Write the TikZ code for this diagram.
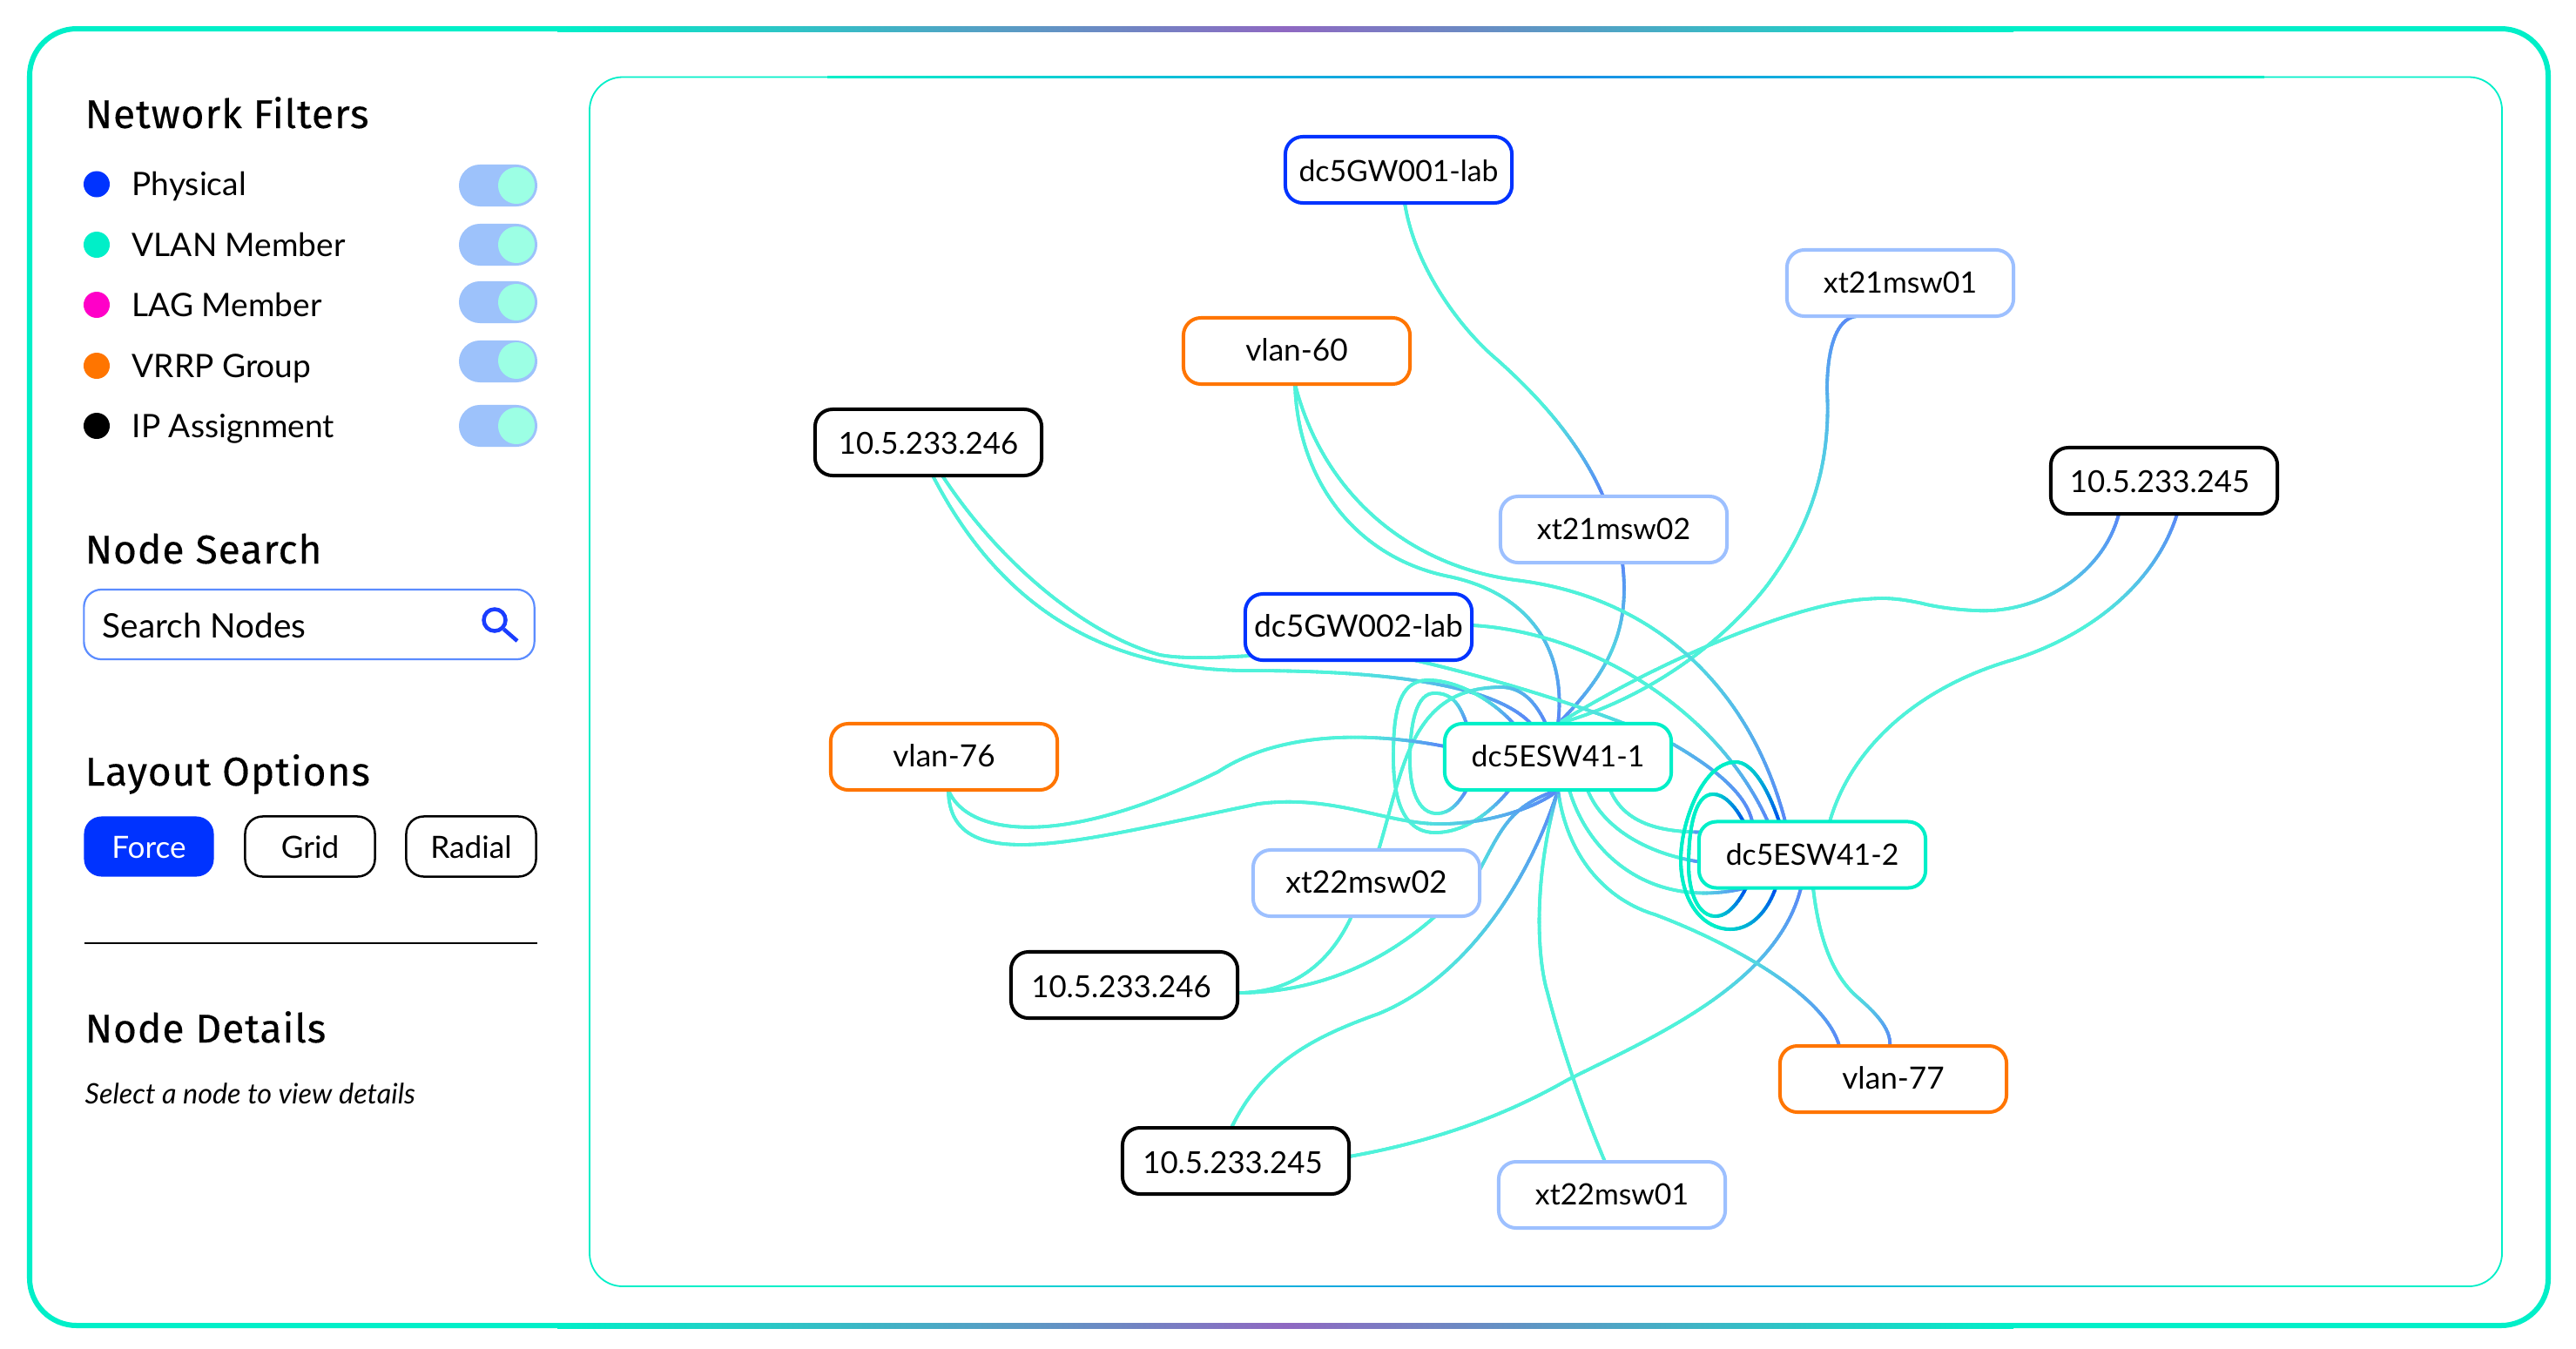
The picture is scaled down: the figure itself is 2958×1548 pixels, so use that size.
\documentclass[tikz,border=0pt]{standalone}
\usepackage{fontspec}
\setmainfont{Lato}
\newfontfamily\headfont[FakeBold=0.25,LetterSpace=2]{Fira Sans}
\usetikzlibrary{calc,decorations.markings,shapes.misc}
\pgfdeclarelayer{paper}
\pgfdeclarelayer{edges}
\pgfsetlayers{paper,edges,main}
\definecolor{tealw}{HTML}{4FF2DA}
\definecolor{bluew}{HTML}{5B85F8}
\definecolor{tealL}{HTML}{00EFC8}
\definecolor{blueL}{HTML}{0048F0}
\definecolor{framepurple}{HTML}{8F68C2}
\definecolor{panelblue}{HTML}{1A8CE8}
\definecolor{cPhys}{HTML}{0033FF}
\definecolor{cXt}{HTML}{9DC0FF}
\definecolor{cVlan}{HTML}{FF7500}
\definecolor{cLag}{HTML}{FF00C8}
\definecolor{cTog}{HTML}{9DC2FB}
\definecolor{cKnob}{HTML}{9CFFE4}
\definecolor{cSearch}{HTML}{5B8CFF}
\definecolor{cIcon}{HTML}{1A3DFF}
\newcommand\wiretick[4]{%
  \pgfmathsetmacro\wirepct{100*max(0,max(1-(\pgfkeysvalueof{/pgf/decoration/mark info/distance from start})/((#1+0.001)*\pgfdecoratedpathlength),1-(\pgfdecoratedpathlength-\pgfkeysvalueof{/pgf/decoration/mark info/distance from start})/((#2+0.001)*\pgfdecoratedpathlength)))}%
  \colorlet{wiremix}{#3!\wirepct!#4}%
  \draw[wiremix,line width=0.036cm,line cap=butt] (-1pt,0pt) -- (1pt,0pt);%
}
\tikzset{
  x=0.01cm,y=-0.01cm,
  wire/.style 2 args={draw=tealw,line width=0.036cm,postaction={decorate,decoration={markings,
      mark=between positions 0 and 1 step 1.2pt with {\wiretick{#1}{#2}{bluew}{tealw}}}}},
  loopwire/.style 2 args={draw=tealL,line width=0.04cm,postaction={decorate,decoration={markings,
      mark=between positions 0 and 1 step 1.2pt with {\wiretick{#1}{#2}{blueL}{tealL}}}}},
  netnode/.style={rectangle,rounded corners=0.2cm,fill=white,line width=0.04cm,minimum width=2.6cm,minimum height=0.76cm,
      inner sep=0pt,outer sep=0pt,text height=6.8pt,text depth=0pt,font=\fontsize{9.6}{11}\selectfont},
  physn/.style={netnode,draw=cPhys},
  xtn/.style={netnode,draw=cXt},
  vlann/.style={netnode,draw=cVlan,font=\fontsize{10}{11}\selectfont},
  ipn/.style={netnode,draw=black,text height=7.6pt,font=\fontsize{9.9}{11}\selectfont},
  eswn/.style={netnode,draw=tealL},
  heading/.style={anchor=base west,inner sep=0pt,font=\headfont\fontsize{13.1}{15}\selectfont},
  label/.style={anchor=base west,inner sep=0pt,font=\fontsize{10.55}{12}\selectfont},
  legdot/.style={circle,inner sep=0pt,minimum size=0.3cm},
  togglebg/.style={rectangle,rounded corners=0.24cm,fill=cTog,minimum width=0.9cm,minimum height=0.48cm,inner sep=0pt},
  knob/.style={circle,fill=cKnob,inner sep=0pt,minimum size=0.42cm},
  btn/.style={rectangle,rounded corners=0.2cm,minimum width=1.49cm,minimum height=0.69cm,inner sep=0pt,text height=7.8pt,text depth=0pt,font=\fontsize{10}{11}\selectfont},
}
\begin{document}
\begin{tikzpicture}
\useasboundingbox (0,0) rectangle (2958,1548);
\begin{pgfonlayer}{paper}
\fill[white] (0,0) rectangle (2958,1548);
% frames
\draw[tealL,line width=0.06cm,rounded corners=0.54cm] (34,33) rectangle (2926,1522);
\shade[left color=tealL,right color=tealL,middle color=framepurple] (640,30) rectangle (2312,36);
\shade[left color=tealL,right color=tealL,middle color=framepurple] (640,1519) rectangle (2312,1525);
\draw[tealL,line width=0.018cm,rounded corners=0.38cm] (677,88.5) rectangle (2873,1477);
\shade[left color=tealL,right color=tealL,middle color=panelblue] (950,87.6) rectangle (2600,89.4);
\shade[left color=tealL,right color=tealL,middle color=panelblue] (950,1476.1) rectangle (2600,1477.9);
\end{pgfonlayer}
% sidebar
\node[heading] (h1) at (97,147) {Network Filters};
\node[legdot,fill=cPhys] (d1) at (111,211.5) {};
\node[legdot,fill=tealL] (d2) at (111,281) {};
\node[legdot,fill=cLag] (d3) at (111,350) {};
\node[legdot,fill=cVlan] (d4) at (111,420) {};
\node[legdot,fill=black] (d5) at (111,489) {};
\node[label] (l1) at (151,224) {Physical};
\node[label] (l2) at (151,294) {VLAN Member};
\node[label] (l3) at (151,363) {LAG Member};
\node[label] (l4) at (151,433) {VRRP Group};
\node[label] (l5) at (151,502) {IP Assignment};
\node[togglebg] (t1) at (572,213) {}; \node[knob] (k1) at (593,213) {};
\node[togglebg] (t2) at (572,281) {}; \node[knob] (k2) at (593,281) {};
\node[togglebg] (t3) at (572,347) {}; \node[knob] (k3) at (593,347) {};
\node[togglebg] (t4) at (572,415) {}; \node[knob] (k4) at (593,414) {};
\node[togglebg] (t5) at (572,489) {}; \node[knob] (k5) at (593,489) {};
\node[heading] (h2) at (97,647) {Node Search};
\node[rectangle,draw=cSearch,line width=0.022cm,rounded corners=0.2cm,minimum width=5.17cm,minimum height=0.8cm,inner sep=0pt] (search) at (355,717) {};
\node[anchor=base west,inner sep=0pt,font=\fontsize{11}{13}\selectfont] (searchtxt) at (117,732) {Search Nodes};
\node[circle,draw=cIcon,line width=0.045cm,inner sep=0pt,minimum size=0.25cm] (icon) at (568,712) {};
\coordinate (iconend) at (594,736);
\draw[cIcon,line width=0.045cm] (icon.-45) -- (iconend);
\node[heading] (h3) at (97,902) {Layout Options};
\node[btn,fill=cPhys,text=white] (b1) at (171,972) {Force};
\node[btn,draw=black,line width=0.025cm] (b2) at (356,972) {Grid};
\node[btn,draw=black,line width=0.025cm] (b3) at (541,972) {Radial};
\coordinate (ruleL) at (96.5,1083);
\coordinate (ruleR) at (617,1083);
\draw[black,line width=0.02cm] (ruleL) -- (ruleR);
\node[heading] (h4) at (97,1197) {Node Details};
\node[anchor=base west,inner sep=0pt,font=\itshape\fontsize{9.2}{11}\selectfont] (sel) at (97,1267) {Select a node to view details};
% network nodes
\node[physn,text height=7.6pt] (gwa) at (1606,195) {dc5GW001-lab};
\node[xtn] (xta) at (2182,325) {xt21msw01};
\node[vlann] (vs) at (1489,403) {vlan-60};
\node[ipn] (ipa) at (1066,508) {10.5.233.246};
\node[xtn] (xtb) at (1853,608) {xt21msw02};
\node[ipn] (ipb) at (2485,552) {10.5.233.245\kern2.8pt};
\node[physn,font=\fontsize{10.05}{11}\selectfont] (gwb) at (1560,720) {dc5GW002-lab};
\node[vlann] (vm) at (1084,869) {vlan-76};
\node[eswn] (hub) at (1789,869) {dc5ESW41-1};
\node[eswn] (esw) at (2081,981.5) {dc5ESW41-2};
\node[xtn,font=\fontsize{10.1}{11}\selectfont] (xtc) at (1569,1014) {xt22msw02};
\node[ipn,text height=8.4pt] (ipc) at (1291,1131) {10.5.233.246\kern2pt};
\node[vlann] (vn) at (2174,1239) {vlan-77};
\node[ipn,text height=8.4pt] (ipd) at (1419,1333) {10.5.233.245\kern2pt};
\node[xtn] (xtd) at (1851,1372) {xt22msw01};
% connectors
\begin{pgfonlayer}{edges}
\draw[wire={0}{.3}] ($(gwa.south)+(7,0)$) .. controls (1625,310) and (1680,380) .. (1718,412) .. controls (1770,458) and (1815,510) .. ($(xtb.north)+(-12,0)$);
\draw[wire={.7}{.7}] ($(xtb.south)+(10,0)$) .. controls (1872,720) and (1850,770) .. (hub.north);
\draw[wire={.45}{0}] ($(xta.south)+(-49,0)$) .. controls (2105,365) and (2098,410) .. (2098,448) .. controls (2103,540) and (2075,610) .. (2030,671) .. controls (1985,730) and (1900,800) .. (hub.north);
\draw[wire={.25}{0}] ($(ipb.south)+(-52,0)$) .. controls (2415,660) and (2340,705) .. (2269,701) .. controls (2240,700) and (2215,695) .. (2208,693) .. controls (2180,687) and (2165,686) .. (2142,688) .. controls (2070,692) and (1920,750) .. (hub.north);
\draw[wire={.3}{0}] ($(ipb.south)+(15,0)$) .. controls (2475,670) and (2400,730) .. (2310,758) .. controls (2200,790) and (2125,860) .. ($(esw.north)+(20,0)$);
\draw[wire={0}{.35}] ($(vs.south)+(-2,0)$) .. controls (1520,570) and (1620,650) .. (1740,666) .. controls (1900,685) and (2010,790) .. ($(esw.north)+(-31,0)$);
\draw[wire={0}{.35}] ($(vs.south)+(-2,0)$) .. controls (1490,550) and (1555,640) .. (1664,662) .. controls (1750,680) and (1800,740) .. (hub.north);
\draw[wire={0}{.35}] ($(gwb.east)+(0,-2)$) .. controls (1820,725) and (1970,810) .. ($(esw.north)+(-51,0)$);
\draw[wire={0}{.6}] ($(gwb.south)+(64,0)$) .. controls (1720,780) and (1850,820) .. (1922,855) .. controls (1965,880) and (2005,910) .. ($(esw.north)+(-69,0)$);
\draw[wire={0}{0}] ($(ipa.south)+(16,0)$) .. controls (1150,650) and (1250,730) .. (1332,752) .. controls (1360,757) and (1400,755) .. ($(gwb.west)+(5,33)$);
\draw[wire={0}{.3}] ($(ipa.south)+(5,0)$) .. controls (1140,680) and (1250,770) .. (1434,770) .. controls (1560,770) and (1710,780) .. ($(hub.north)+(-31,0)$);
\draw[wire={.12}{.12}] ($(hub.north)+(-51,0)$) .. controls (1710,800) and (1670,781) .. (1640,781) .. controls (1605,781) and (1600,820) .. (1600,870) .. controls (1600,925) and (1615,956) .. (1648,956) .. controls (1680,956) and (1710,935) .. ($(hub.south)+(-56,0)$);
\draw[wire={.15}{.15}] ($(hub.north)+(-105,0)$) .. controls (1675,805) and (1665,796) .. (1647,796) .. controls (1625,796) and (1619,835) .. (1619,873) .. controls (1619,910) and (1630,934) .. (1650,934) .. controls (1665,934) and (1675,922) .. ($(hub.south)+(-105,0)$);
\draw[wire={0}{.35}] ($(xtc.north)+(14,0)$) .. controls (1612,880) and (1620,790) .. (1723,789) .. controls (1750,789) and (1765,810) .. ($(hub.north)+(-14,0)$);
\draw[wire={0}{.35}] ($(ipc.east)+(0,9)$) .. controls (1560,1140) and (1650,1060) .. (1700,997) .. controls (1725,950) and (1735,925) .. (hub.south);
\draw[wire={0}{0}] ($(ipc.east)+(0,9)$) .. controls (1490,1140) and (1530,1100) .. ($(xtc.south)+(-17,0)$);
\draw[wire={0}{.15}] ($(vm.south)+(5,0)$) .. controls (1110,960) and (1220,975) .. (1399,886) .. controls (1470,840) and (1570,840) .. ($(hub.west)+(0,-12)$);
\draw[wire={0}{.25}] ($(vm.south)+(5,0)$) .. controls (1090,1010) and (1240,965) .. (1445,923) .. controls (1530,912) and (1590,945) .. (1650,946) .. controls (1710,947) and (1770,925) .. (hub.south);
\draw[wire={0}{.5}] ($(ipd.north)+(-5,0)$) .. controls (1450,1220) and (1510,1190) .. (1583,1164) .. controls (1690,1120) and (1760,1000) .. (hub.south);
\draw[wire={0}{.3}] ($(ipd.east)+(0,-5)$) .. controls (1650,1310) and (1730,1280) .. (1800,1240) .. controls (1900,1190) and (2040,1130) .. ($(esw.south)+(-13,0)$);
\draw[wire={.1}{0}] (hub.south) .. controls (1760,1010) and (1765,1100) .. (1777,1140) .. controls (1795,1210) and (1820,1280) .. ($(xtd.north)+(-8,0)$);
\draw[wire={.03}{.4}] (hub.south) .. controls (1800,990) and (1850,1035) .. (1900,1050) .. controls (1980,1080) and (2095,1140) .. ($(vn.north)+(-62,0)$);
\draw[wire={0}{.25}] ($(hub.south)+(13,0)$) .. controls (1825,985) and (1900,1045) .. ($(esw.south)+(-76,0)$);
\draw[wire={0}{.15}] ($(hub.south)+(34,0)$) .. controls (1840,950) and (1890,980) .. ($(esw.west)+(0,8)$);
\draw[wire={0}{.1}] ($(hub.south)+(60,0)$) .. controls (1865,945) and (1905,955) .. ($(esw.west)+(0,-26)$);
\draw[wire={0}{.4}] ($(esw.south)+(1,0)$) .. controls (2090,1090) and (2110,1125) .. (2133,1145) .. controls (2150,1160) and (2172,1180) .. ($(vn.north)+(-4,0)$);
\draw[loopwire={.22}{.22}] ($(esw.north)+(-38,0)$) .. controls (2030,905) and (2012,875) .. (1993,875) .. controls (1955,875) and (1930,945) .. (1930,987) .. controls (1930,1035) and (1955,1067) .. (1987,1067) .. controls (2012,1067) and (2030,1045) .. ($(esw.south)+(-42,0)$);
\draw[loopwire={.22}{.22}] ($(esw.north)+(-79,0)$) .. controls (1992,925) and (1980,912) .. (1967,912) .. controls (1945,912) and (1939,955) .. (1939,993) .. controls (1939,1025) and (1950,1052) .. (1970,1052) .. controls (1985,1052) and (1997,1035) .. ($(esw.south)+(-76,0)$);
\end{pgfonlayer}
\end{tikzpicture}
\end{document}
